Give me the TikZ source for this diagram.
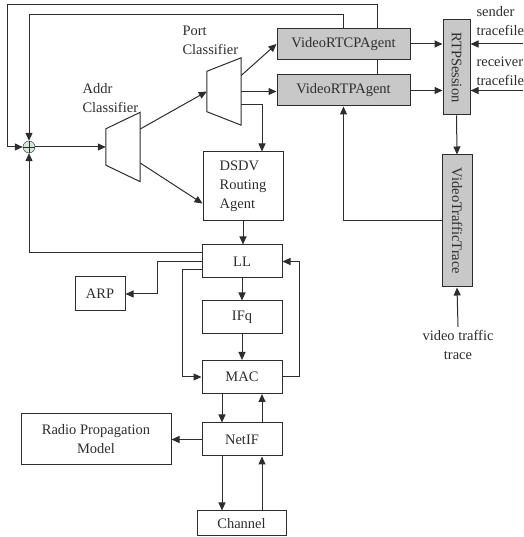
\documentclass[tikz,border=0pt]{standalone}
\usepackage{fontspec}
\setmainfont{Liberation Serif}
\usetikzlibrary{arrows.meta,positioning,shapes.geometric}
\definecolor{linegray}{RGB}{45,45,45}
\definecolor{agentgray}{RGB}{200,200,200}
\definecolor{sumgreen}{RGB}{212,232,214}

\begin{document}
\begin{tikzpicture}[
  x=1pt, y=1pt,
  every node/.style={align=center, font=\fontsize{14.5}{19}\selectfont, text=linegray},
  block/.style={rectangle, draw=linegray, line width=1pt, minimum width=80pt, minimum height=33pt, inner sep=0pt},
  agent/.style={block, fill=agentgray, minimum width=133pt, minimum height=31pt},
  vbar/.style={block, fill=agentgray, rotate=-90},
  classbox/.style={rectangle, inner sep=0pt, minimum width=34pt},
  junction/.style={circle, draw=linegray, fill=sumgreen, minimum size=12pt, inner sep=0pt,
    path picture={\draw[linegray, line width=0.6pt] (path picture bounding box.north) -- (path picture bounding box.south)
      (path picture bounding box.west) -- (path picture bounding box.east);}},
  arrow/.style={-{Triangle[length=8pt, width=7pt]}, line width=1pt, draw=linegray},
  wire/.style={line width=1pt, draw=linegray}
]
\useasboundingbox (0,0) rectangle (523,537);

% --- CLASSIFIERS ---
\node[junction] (sum) at (29,390) {};
\node[classbox, minimum height=69pt] (addr) at (123,390) {};
\node[classbox, minimum height=67pt] (port) at (224,445.5) {};
\draw[wire] ([yshift=-16.5pt]addr.north west) -- (addr.north east) -- (addr.south east) -- ([yshift=16.5pt]addr.south west) -- cycle;
\draw[wire] ([yshift=-13.5pt]port.north west) -- (port.north east) -- (port.south east) -- ([yshift=13.5pt]port.south west) -- cycle;
\node[anchor=west, align=left] (addrlbl) at (79,439) {Addr\\Classifier};
\node[anchor=west, align=left] (portlbl) at (179,496.5) {Port\\Classifier};

% --- AGENTS ---
\node[agent] (rtcp) at (343.5,493) {VideoRTCPAgent};
\node[agent] (rtp) at (343.5,446.5) {VideoRTPAgent};
\node[vbar, minimum width=95pt, minimum height=27pt] (session) at (456.5,469.5) {RTPSession};
\node[vbar, minimum width=132pt, minimum height=30pt] (trace) at (457,316) {VideoTrafficTrace};
\node[anchor=west, align=left] (sender) at (473,516) {sender\\tracefile};
\node[anchor=west, align=left] (receiver) at (473,465.5) {receiver\\tracefile};
\node (vidtrace) at (458,192) {video traffic\\trace};
\coordinate (senderin) at (523,493);
\coordinate (receiverin) at (523,446.5);

% --- NODE STACK ---
\node[block, minimum height=69pt, align=left] (dsdv) at (243,350.5) {DSDV\\Routing\\Agent};
\node[block] (ll) at (242,275.5) {LL};
\node[block] (ifq) at (242,219.5) {IFq};
\node[block] (mac) at (242,160) {MAC};
\node[block] (netif) at (242,97.5) {NetIF};
\node[block, minimum width=89pt, minimum height=25pt] (channel) at (241.5,13.5) {Channel};
\node[block, minimum width=50pt, minimum height=34pt] (arp) at (100,243) {ARP};
\node[block, minimum width=150pt, minimum height=51pt] (radio) at (96,97.5) {Radio Propagation\\Model};

% --- CLASSIFIER FLOW ---
\draw[arrow] (sum.east) -- (addr.west);
\draw[arrow] ([yshift=18pt]addr.east) -- (port.west);
\draw[arrow] ([yshift=-16pt]addr.east) -- ([yshift=-17pt]dsdv.west);
\draw[arrow] ([yshift=16pt]port.east) -- (rtcp.west);
\draw[arrow] (port.east) -- (port.east -| rtp.west);
\draw[arrow] ([yshift=-13pt]port.east) -| ([xshift=19pt]dsdv.north);

% --- FEEDBACK LOOPS ---
\draw[arrow] (rtcp.north) -- ++(0,13) -| (sum.north);
\draw[arrow] ([xshift=33.5pt]rtcp.north) -- ++(0,23) -| ([xshift=-15pt]sum.west) -- (sum.west);
\draw[wire] ([xshift=33.5pt]rtp.north) -- ([xshift=33.5pt]rtcp.south);
\draw[arrow] ([yshift=8.5pt]ll.west) -| (sum.south);

% --- RTP SESSION ---
\draw[arrow] (rtcp.east) -- (rtcp.east -| session.south);
\draw[arrow] (rtp.east) -- (rtp.east -| session.south);
\draw[arrow] (senderin) -- (senderin -| session.north);
\draw[arrow] (receiverin) -- (receiverin -| session.north);
\draw[arrow] (session.east) -- (trace.west);
\draw[arrow] (trace.south) -| (rtp.south);
\draw[arrow] (vidtrace.north) -- (trace.east);

% --- LINK LAYER DOWN ---
\draw[arrow] (dsdv.south) -- (dsdv.south |- ll.north);
\draw[arrow] (ll.west) -- ++(-44,0) |- (arp.east);
\draw[arrow] ([yshift=-8.5pt]ll.west) -- ++(-19,0) |- (mac.west);
\draw[arrow] (ll.south) -- (ifq.north);
\draw[arrow] (ifq.south) -- (mac.north);
\draw[arrow] (mac.east) -- ++(17,0) |- (ll.east);
\draw[arrow] ([xshift=-20pt]mac.south) -- ([xshift=-20pt]netif.north);
\draw[arrow] ([xshift=20pt]netif.north) -- ([xshift=20pt]mac.south);
\draw[arrow] (netif.west) -- (radio.east);
\draw[arrow] ([xshift=-20pt]netif.south) -- ([xshift=-20pt]netif.south |- channel.north);
\draw[arrow] ([xshift=20pt]netif.south |- channel.north) -- ([xshift=20pt]netif.south);

\end{tikzpicture}
\end{document}
